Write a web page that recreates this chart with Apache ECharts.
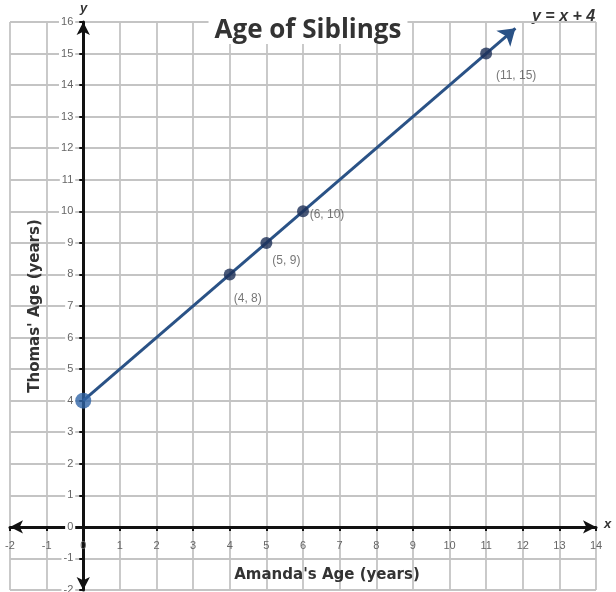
<!DOCTYPE html>
<html>
<head>
<meta charset="utf-8">
<script src="https://cdn.jsdelivr.net/npm/echarts@6/dist/echarts.min.js"></script>
<style>
  html, body { margin: 0; padding: 0; background: #fff; }
  #chart { width: 616px; height: 592px; }
</style>
</head>
<body>
<div id="chart"></div>
<script>
// ages
var amandaAges = [0, 4, 5, 6, 11];
var thomasAges = [4, 8, 9, 10, 15];
var pointNames = ['', '(4, 8)', '(5, 9)', '(6, 10)', '(11, 15)'];
// where the drawn arrow of y = x + 4 stops
var lineStart = [0, 4];
var lineEnd = [11.8, 15.8];
var xRange = [-2, 14];
var yRange = [-2, 16];

// label placement per point (pixels)
var labelOffsets = [[0, 0], [18, 24], [20, 18], [24, 3], [30, 22]];

var chart = echarts.init(document.getElementById('chart'));

var gridBox = { left: 10, top: 22, width: 586, height: 568 };
// move the axes from the grid edges onto the zero lines
var xAxisShift = -gridBox.height * (0 - yRange[0]) / (yRange[1] - yRange[0]);
var yAxisShift = -gridBox.width * (0 - xRange[0]) / (xRange[1] - xRange[0]);

var points = amandaAges.map(function (a, i) {
  var first = i === 0;
  return {
    value: [a, thomasAges[i]],
    name: pointNames[i],
    symbolSize: first ? 16 : 12,
    itemStyle: { color: first ? '#2f64a6' : '#1d2f57' },
    label: {
      show: !first,
      position: 'inside',
      offset: labelOffsets[i],
      formatter: '{b}',
      color: '#555',
      fontSize: 12,
      fontFamily: 'Liberation Sans'
    }
  };
});

var gridColor = '#c4c4c4';
var tickFont = { color: '#666', fontSize: 11, fontFamily: 'Liberation Sans' };
var nameFont = { fontFamily: 'DejaVu Sans', fontWeight: 'bold', fontSize: 15, color: '#333' };

option = {
  backgroundColor: '#fff',
  animation: false,
  title: {
    text: 'Age of Siblings',
    left: 'center',
    top: 18,
    padding: [0, 6],
    backgroundColor: '#fff',
    textStyle: {
      fontFamily: 'Open Sans',
      fontWeight: 'bold',
      fontSize: 26,
      color: '#333'
    }
  },
  grid: {
    left: gridBox.left,
    top: gridBox.top,
    width: gridBox.width,
    height: gridBox.height,
    outerBoundsMode: 'none',
    containLabel: false
  },
  xAxis: {
    type: 'value',
    min: xRange[0],
    max: xRange[1],
    interval: 1,
    position: 'bottom',
    offset: xAxisShift,
    name: "Amanda's Age (years)",
    nameLocation: 'middle',
    nameGap: 41,
    nameTextStyle: Object.assign({ padding: [0, 0, 0, 48] }, nameFont),
    axisLine: {
      onZero: false,
      symbol: ['arrow', 'arrow'],
      symbolSize: [10, 13],
      lineStyle: { color: '#111', width: 3 }
    },
    axisTick: { show: true, length: 4, lineStyle: { color: '#111', width: 2 } },
    axisLabel: Object.assign({ margin: 14, showMinLabel: true, showMaxLabel: true }, tickFont),
    splitLine: { show: true, lineStyle: { color: gridColor, width: 1.8 } }
  },
  yAxis: {
    type: 'value',
    min: yRange[0],
    max: yRange[1],
    interval: 1,
    position: 'left',
    offset: yAxisShift,
    name: "Thomas' Age (years)",
    nameLocation: 'middle',
    nameGap: 41,
    nameTextStyle: nameFont,
    axisLine: {
      onZero: false,
      symbol: ['arrow', 'arrow'],
      symbolSize: [10, 13],
      lineStyle: { color: '#111', width: 3 }
    },
    axisTick: { show: true, length: 4, lineStyle: { color: '#111', width: 2 } },
    axisLabel: Object.assign({ margin: 8, backgroundColor: '#fff', padding: [0, 2], showMinLabel: true, showMaxLabel: true }, tickFont),
    splitLine: { show: true, lineStyle: { color: gridColor, width: 1.8 } }
  },
  graphic: [
    { type: 'text', left: 80, top: 2, style: { text: 'y', font: 'italic bold 13px Liberation Sans', fill: '#333' } },
    { type: 'text', left: 604, top: 518, style: { text: 'x', font: 'italic bold 13px Liberation Sans', fill: '#333' } },
    { type: 'text', left: 532, top: 9, style: { text: 'y = x + 4', font: 'italic bold 16px Liberation Sans', fill: '#333' } }
  ],
  series: [
    {
      name: 'y = x + 4',
      type: 'lines',
      coordinateSystem: 'cartesian2d',
      symbol: ['none', 'arrow'],
      symbolSize: 16,
      lineStyle: { color: '#2a5286', width: 3, opacity: 1, curveness: 0 },
      data: [{ coords: [lineStart, lineEnd] }],
      z: 3
    },
    {
      name: 'Ages',
      type: 'scatter',
      data: points,
      z: 4
    }
  ]
};

if (option && typeof option === 'object') {
  chart.setOption(option, true);
}
</script>
</body>
</html>
